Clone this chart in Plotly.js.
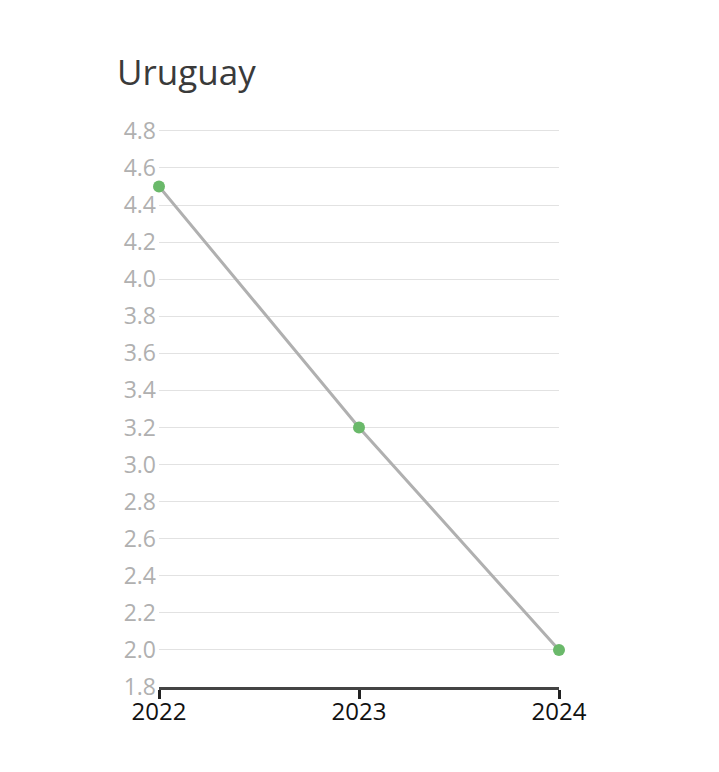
<!DOCTYPE html>
<html>
<head>
<meta charset="utf-8">
<script src="https://cdn.plot.ly/plotly-3.0.1.min.js"></script>
<style>html,body{margin:0;padding:0;background:#fff;}</style>
</head>
<body>
<div id="chart" style="width:719px;height:772px;"></div>
<script>
var years = [2022, 2023, 2024];
var values = [4.5, 3.2, 2.0];
var yTicks = [1.8, 2.0, 2.2, 2.4, 2.6, 2.8, 3.0, 3.2, 3.4, 3.6, 3.8, 4.0, 4.2, 4.4, 4.6, 4.8];
var xTickLabels = ['2022', '2023', '2024'];

var trace = {
  x: years,
  y: values,
  type: 'scatter',
  mode: 'lines+markers',
  line: {color: '#b0b0b0', width: 3},
  marker: {color: '#6ab96a', size: 12},
  hoverinfo: 'x+y',
  cliponaxis: false
};

var layout = {
  width: 719,
  height: 772,
  paper_bgcolor: '#ffffff',
  plot_bgcolor: '#ffffff',
  font: {family: '"Open Sans", "Noto Sans", sans-serif'},
  margin: {l: 159, r: 160, t: 129, b: 85, pad: 0},
  showlegend: false,
  title: {
    text: 'Uruguay',
    font: {size: 35, color: '#3a3a3a'},
    x: 117 / 719,
    xanchor: 'left',
    xref: 'container',
    y: 1 - 73 / 772,
    yanchor: 'middle',
    yref: 'container'
  },
  xaxis: {
    range: [2022, 2024],
    tickvals: years,
    ticktext: xTickLabels,
    showgrid: false,
    zeroline: false,
    showline: true,
    linecolor: '#444444',
    linewidth: 3,
    ticks: 'outside',
    ticklen: 9,
    tickwidth: 3,
    tickcolor: '#222222',
    ticklabelstandoff: -8,
    tickfont: {size: 24, color: '#111111'}
  },
  yaxis: {
    range: [1.8, 4.81],
    tickvals: yTicks,
    ticktext: yTicks.map(function(v){return v.toFixed(1);}),
    showgrid: true,
    gridcolor: '#e2e2e2',
    gridwidth: 1,
    zeroline: false,
    showline: false,
    ticks: '',
    ticklabelstandoff: 2,
    tickfont: {size: 23, color: '#b0b0b0'}
  }
};

Plotly.newPlot('chart', [trace], layout, {displayModeBar: false, responsive: false});
</script>
</body>
</html>
